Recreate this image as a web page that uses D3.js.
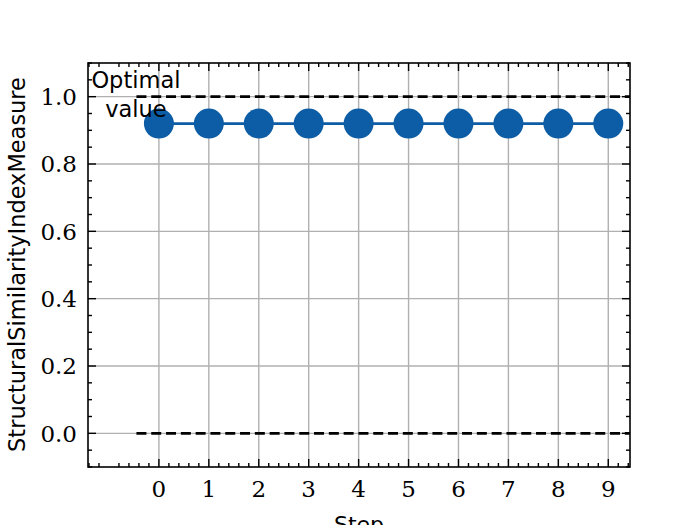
<!DOCTYPE html>
<html><head><meta charset="utf-8">
<script src="https://cdn.jsdelivr.net/npm/d3@7"></script>
<style>body{margin:0;background:#fff}svg{display:block}</style>
</head><body><svg id="c" width="700" height="525"></svg>
<script>
const steps = [0,1,2,3,4,5,6,7,8,9];
const ssim = [0.92,0.92,0.92,0.92,0.92,0.92,0.92,0.92,0.92,0.92];
const xTicks = [0,1,2,3,4,5,6,7,8,9];
const yTicks = [0.0,0.2,0.4,0.6,0.8,1.0];
const optimalLines = [1.0, 0.0];
const xLabel = "Step";
const yLabel = "StructuralSimilarityIndexMeasure";
const annotation = ["Optimal","value"];

const svg = d3.select("#c");
const L=88,R=630,T=63,B=467;
const x = d3.scaleLinear().domain([-1.42,9.435]).range([L,R]);
const y = d3.scaleLinear().domain([-0.1,1.1]).range([B,T]);

svg.append("rect").attr("width",700).attr("height",525).attr("fill","#fff");

// grid
const g = svg.append("g");
g.selectAll(".gx").data(xTicks).enter().append("line")
 .attr("x1",d=>x(d)).attr("x2",d=>x(d)).attr("y1",T).attr("y2",B)
 .attr("stroke","#b0b0b0").attr("stroke-width",1.4);
g.selectAll(".gy").data(yTicks).enter().append("line")
 .attr("y1",d=>y(d)).attr("y2",d=>y(d)).attr("x1",L).attr("x2",R)
 .attr("stroke","#b0b0b0").attr("stroke-width",1.4);

// dashed optimal lines
svg.selectAll(".opt").data(optimalLines).enter().append("line")
 .attr("x1",x(-0.45)).attr("x2",R).attr("y1",d=>y(d)).attr("y2",d=>y(d))
 .attr("stroke","#000").attr("stroke-width",2.6).attr("stroke-dasharray","10,4.8");

// series
const line = d3.line().x((d,i)=>x(steps[i])).y(d=>y(d));
svg.append("path").datum(ssim).attr("d",line).attr("fill","none")
 .attr("stroke","#0C5DA5").attr("stroke-width",2.8);
svg.selectAll(".pt").data(ssim).enter().append("circle")
 .attr("cx",(d,i)=>x(steps[i])).attr("cy",d=>y(d)).attr("r",15).attr("fill","#0C5DA5");

// annotation
const ann = svg.append("text").attr("font-family","'DejaVu Sans', sans-serif").attr("font-size",22.5)
 .attr("text-anchor","middle").attr("fill","#000");
annotation.forEach((t,i)=>ann.append("tspan").attr("x",x(-0.46)).attr("y",88+i*29).text(t));

// axes frame
svg.append("rect").attr("x",L).attr("y",T).attr("width",R-L).attr("height",B-T)
 .attr("fill","none").attr("stroke","#000").attr("stroke-width",1.6);

// ticks
const xMinor = d3.range(-1.4,9.45,0.2).filter(v=>Math.abs(v-Math.round(v))>1e-6);
const yMinor = d3.range(-0.1,1.1001,0.05).filter(v=>Math.abs(v*5-Math.round(v*5))>1e-6);
function xt(vals,len){
  vals.forEach(v=>{
    svg.append("line").attr("x1",x(v)).attr("x2",x(v)).attr("y1",B).attr("y2",B-len).attr("stroke","#000").attr("stroke-width",1.4);
    svg.append("line").attr("x1",x(v)).attr("x2",x(v)).attr("y1",T).attr("y2",T+len).attr("stroke","#000").attr("stroke-width",1.4);
  });
}
function yt(vals,len){
  vals.forEach(v=>{
    svg.append("line").attr("y1",y(v)).attr("y2",y(v)).attr("x1",L).attr("x2",L+len).attr("stroke","#000").attr("stroke-width",1.4);
    svg.append("line").attr("y1",y(v)).attr("y2",y(v)).attr("x1",R).attr("x2",R-len).attr("stroke","#000").attr("stroke-width",1.4);
  });
}
xt(xTicks,8); xt(xMinor,4); yt(yTicks,8); yt(yMinor,4);

// tick labels
svg.selectAll(".xl").data(xTicks).enter().append("text")
 .attr("x",d=>x(d)).attr("y",497).attr("text-anchor","middle")
 .attr("font-family","'DejaVu Serif', serif").attr("font-size",23).attr("font-weight",300).text(d=>d);
svg.selectAll(".yl").data(yTicks).enter().append("text")
 .attr("x",77).attr("y",d=>y(d)+8.4).attr("text-anchor","end")
 .attr("font-family","'DejaVu Serif', serif").attr("font-size",23).attr("font-weight",300).text(d=>d.toFixed(1));

// axis labels
svg.append("text").attr("x",(L+R)/2).attr("y",532).attr("text-anchor","middle")
 .attr("font-family","'DejaVu Sans', sans-serif").attr("font-size",22).text(xLabel);
const yl = svg.append("text").attr("transform","translate(25,"+((77+452)/2)+") rotate(-90)")
 .attr("text-anchor","middle").attr("font-family","'DejaVu Sans', sans-serif").attr("font-size",22).text(yLabel);
const w = yl.node().getComputedTextLength();
yl.attr("font-size",22*375/w);
</script></body></html>
